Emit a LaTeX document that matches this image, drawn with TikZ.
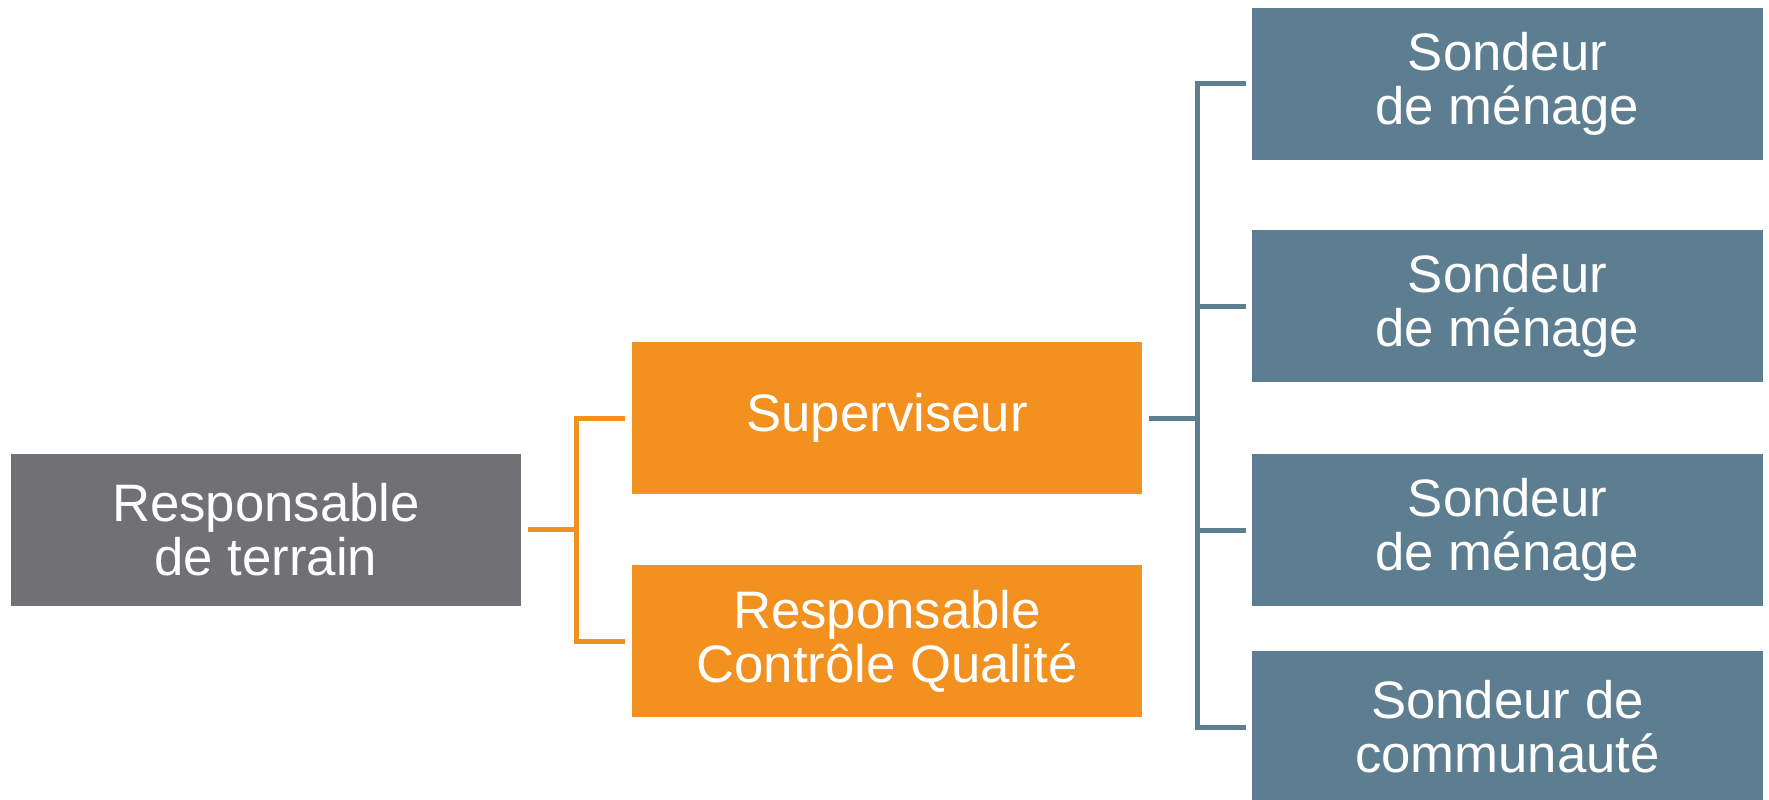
\documentclass[tikz,border=0pt]{standalone}
\usepackage{fontspec}
\setmainfont{Liberation Sans}
\usepackage{xcolor}
\usetikzlibrary{positioning}

\definecolor{boxgray}{RGB}{113,112,117}
\definecolor{boxorange}{RGB}{243,145,32}
\definecolor{boxblue}{RGB}{93,126,145}

\begin{document}
\begin{tikzpicture}[
  box/.style={minimum width=5.1cm, minimum height=1.52cm, inner sep=0pt,
    text=white, align=center, font=\fontsize{15}{15.3}\selectfont},
  oline/.style={draw=boxorange, line width=0.05cm},
  bline/.style={draw=boxblue, line width=0.05cm}
]
\useasboundingbox (0,0) rectangle (17.69,-7.99);
% блоки
\node [box, fill=boxgray] (resp) at (2.66,-5.295) {Responsable\\de terrain};
\node [box, fill=boxorange] (sup) at (8.87,-4.18) {Superviseur};
\node [box, fill=boxorange] (qual) at (8.87,-6.41) {Responsable\\Contrôle Qualité};
\node [box, fill=boxblue, minimum width=5.11cm] (s1) at (15.075,-0.835) {Sondeur\\de ménage};
\node [box, fill=boxblue, minimum width=5.11cm] (s2) at (15.075,-3.06) {Sondeur\\de ménage};
\node [box, fill=boxblue, minimum width=5.11cm] (s3) at (15.075,-5.30) {Sondeur\\de ménage};
\node [box, fill=boxblue, minimum width=5.11cm] (s4) at (15.075,-7.27) {Sondeur de\\communauté};
% узлы ветвления
\coordinate (oj) at ([xshift=0.55cm]resp.east);
\coordinate (bj) at ([xshift=0.55cm]sup.east);
% связи
\draw [oline] ([xshift=0.06cm]resp.east) -- (oj);
\draw [oline] ([xshift=-0.06cm]sup.west) -| (oj) |- ([xshift=-0.06cm]qual.west);
\draw [bline] ([xshift=0.06cm]sup.east) -- (bj);
\draw [bline] ([xshift=-0.05cm]s1.west) -| (bj) |- ([xshift=-0.05cm]s4.west);
\foreach \s in {s2,s3}
  \draw [bline] ([xshift=-0.05cm]\s.west) -- (\s.west -| bj);
\end{tikzpicture}
\end{document}
